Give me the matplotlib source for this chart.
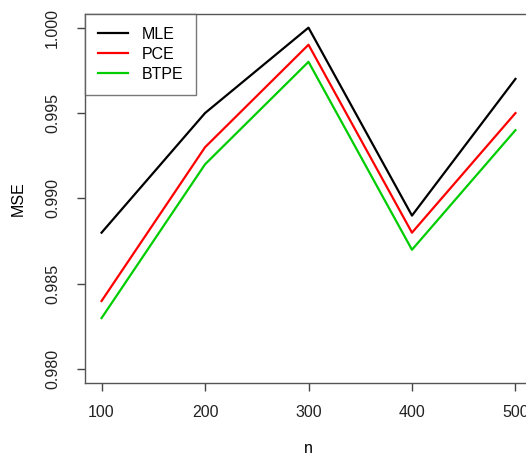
import matplotlib.pyplot as plt

plt.rcParams['font.family'] = ['Liberation Sans', 'DejaVu Sans']

n = [100, 200, 300, 400, 500]
mle = [0.988, 0.995, 1.000, 0.989, 0.997]
pce = [0.984, 0.993, 0.999, 0.988, 0.995]
btpe = [0.983, 0.992, 0.998, 0.987, 0.994]
yticks = [0.980, 0.985, 0.990, 0.995, 1.000]

fig = plt.figure(figsize=(5.26, 4.59), dpi=100)
W, H = 526, 459
ax = fig.add_axes([85 / W, 1 - 383 / H, (532 - 85) / W, (383 - 14) / H])

ax.plot(n, mle, color='black', lw=1.6, label='MLE')
ax.plot(n, pce, color='#ff0000', lw=1.6, label='PCE')
ax.plot(n, btpe, color='#00cd00', lw=1.6, label='BTPE')

ax.set_xlim(84, 516)
ax.set_ylim(0.9792, 1.0008)
ax.set_xticks(n)
ax.set_yticks(yticks)
ax.set_yticklabels(['%.3f' % v for v in yticks], rotation=90, va='center')
ax.tick_params(direction='out', length=6, width=1, color='#444444',
               labelsize=11.5, labelcolor='#222222')
ax.tick_params(axis='x', pad=10)
ax.tick_params(axis='y', pad=12)
for s in ax.spines.values():
    s.set_color('#555555')
    s.set_linewidth(1)

ax.set_xlabel('n', fontsize=11.5, labelpad=15)
ax.set_ylabel('MSE', fontsize=11.5, labelpad=14)

leg = ax.legend(loc='upper left', bbox_to_anchor=(0, 1), fontsize=11.5,
                frameon=True, fancybox=False, handlelength=1.9,
                borderaxespad=0, borderpad=0.8, labelspacing=0.32,
                handletextpad=0.87)
leg.get_frame().set_edgecolor('#555555')
leg.get_frame().set_linewidth(1)

fig.savefig('out.png', dpi=100)
